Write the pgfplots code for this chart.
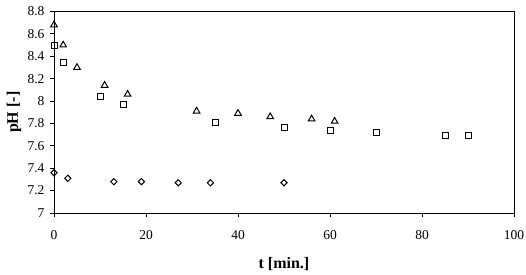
\documentclass[border=0pt]{standalone}
\usepackage{pgfplots}
\pgfplotsset{compat=1.18}
\usepackage{fontspec}
\setmainfont{Liberation Serif}
\begin{document}
\begin{tikzpicture}[x=1pt,y=1pt]
\useasboundingbox (-54pt,-61pt) rectangle (472pt,213pt);
\begin{axis}[
  at={(0,0)}, anchor=south west,
  scale only axis, width=460pt, height=201.5pt,
  xmin=0, xmax=100, ymin=7, ymax=8.8,
  xtick={0,20,...,100},
  ytick={7,7.2,...,8.8},
  yticklabels={7,7.2,7.4,7.6,7.8,8,8.2,8.4,8.6,8.8},
  tick pos=left,
  tick align=outside,
  major tick length=4pt,
  axis line style={line width=0.9pt},
  every tick/.style={black, line width=0.9pt},
  /pgf/number format/assume math mode=true,
  tick label style={font=\fontsize{13.5}{15}\selectfont},
  xticklabel style={anchor=center, yshift=-18pt},
  yticklabel style={anchor=east, xshift=-2pt},
  xlabel={\textbf{t [min.]}},
  ylabel={\textbf{pH [-]}},
  label style={font=\fontsize{16}{18}\selectfont},
  xlabel style={at={(rel axis cs:0.5,0)}, anchor=center, yshift=-51pt},
  ylabel style={at={(axis description cs:-0.087,0.5)}, anchor=center},
  clip=false,
]
\addplot[only marks, mark=triangle, mark size=3.8pt, mark options={line width=1pt, black}] coordinates {
 (0,8.68) (2,8.50) (5,8.30) (11,8.14) (16,8.06) (31,7.91) (40,7.89) (47,7.86) (56,7.84) (61,7.82)
};
\addplot[only marks, mark=square, mark size=3pt, mark options={line width=1pt, black}] coordinates {
 (0,8.50) (2,8.34) (10,8.04) (15,7.97) (35,7.81) (50,7.76) (60,7.74) (70,7.72) (85,7.69) (90,7.69)
};
\addplot[only marks, mark=square, mark size=2.2pt, mark options={line width=1pt, black, rotate=45}] coordinates {
 (0,7.36) (3,7.31) (13,7.28) (19,7.28) (27,7.27) (34,7.27) (50,7.27)
};
\end{axis}
\end{tikzpicture}
\end{document}
